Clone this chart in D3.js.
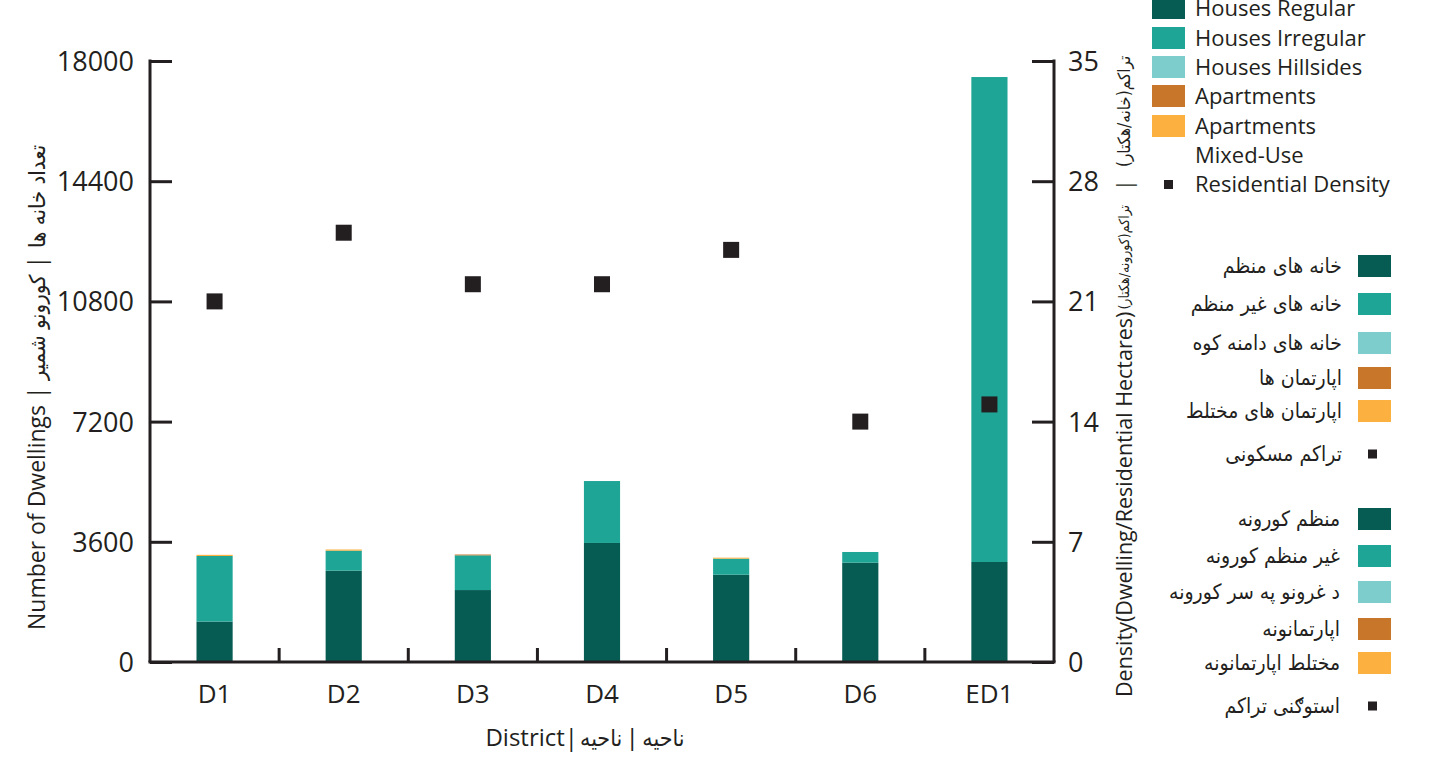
<!DOCTYPE html>
<html><head><meta charset="utf-8">
<script src="https://cdn.jsdelivr.net/npm/d3@7"></script>
<style>
body{margin:0;background:#fff;}
text{font-family:"Open Sans","Noto Sans","DejaVu Sans",sans-serif;fill:#231f20;}
text.ar{font-family:"DejaVu Sans Condensed","DejaVu Sans",sans-serif;}
</style></head>
<body><svg id="c" width="1430" height="765"></svg>
<script>
const districts = ["D1","D2","D3","D4","D5","D6","ED1"];
const housesRegular   = [1210, 2735, 2155, 3565, 2615, 2975, 2995];
const housesIrregular = [1965, 600, 1040, 1855, 480, 320, 14525];
const housesHillsides = [0, 0, 0, 0, 0, 0, 0];
const apartments      = [0, 0, 25, 0, 0, 0, 0];
const apartmentsMixed = [35, 35, 0, 0, 30, 0, 0];
const density         = [21, 25, 22, 22, 24, 14, 15];
const leftTicks  = [0, 3600, 7200, 10800, 14400, 18000];
const rightTicks = [0, 7, 14, 21, 28, 35];
const seriesNames = ["Houses Regular","Houses Irregular","Houses Hillsides","Apartments","Apartments\nMixed-Use"];
const seriesDari = ["خانه های منظم","خانه های غیر منظم","خانه های دامنه کوه","اپارتمان ها ","اپارتمان های مختلط"];
const seriesPashto = ["منظم کورونه","غیر منظم کورونه","د غرونو په سر کورونه","اپارتمانونه ","مختلط اپارتمانونه"];
const densityName = "Residential Density", densityDari = "تراکم مسکونی", densityPashto = "استوګنی تراکم";
const colors = ["#065b53","#1fa595","#7dcdcd","#c8772a","#fbb040"];

const svg = d3.select("#c");
const L = 150, R = 1054, T = 61, B = 662;
const x = d3.scaleBand().domain(districts).range([L, R]).paddingInner(0.72).paddingOuter(0.36);
const y = d3.scaleLinear().domain([0, 18000]).range([B, T]);
const y2 = d3.scaleLinear().domain([0, 35]).range([B, T]);

const keys = ["reg","irr","hill","apt","mix"];
const rows = districts.map((d,i)=>({d, reg:housesRegular[i], irr:housesIrregular[i], hill:housesHillsides[i], apt:apartments[i], mix:apartmentsMixed[i]}));
const stack = d3.stack().keys(keys)(rows);
svg.append("g").selectAll("g").data(stack).join("g").attr("fill",(s,i)=>colors[i])
  .selectAll("rect").data(s=>s).join("rect")
  .attr("x",d=>x(d.data.d)).attr("width",x.bandwidth())
  .attr("y",d=>y(d[1])).attr("height",d=>Math.max(0,y(d[0])-y(d[1])));

// density squares
svg.append("g").selectAll("rect").data(density).join("rect")
  .attr("x",(v,i)=>x(districts[i])+x.bandwidth()/2-8).attr("y",v=>y2(v)-8)
  .attr("width",16).attr("height",16).attr("fill","#231f20");

// axes
const axStroke = "#231f20";
const yl = svg.append("g").attr("transform",`translate(${L},0)`)
  .call(d3.axisRight(y).tickValues(leftTicks).tickSize(22).tickFormat(d3.format("d")));
yl.selectAll("text").attr("x",-16).attr("text-anchor","end").style("font-size","27px").attr("dy","0.35em");
const yr = svg.append("g").attr("transform",`translate(${R},0)`)
  .call(d3.axisLeft(y2).tickValues(rightTicks).tickSize(22));
yr.selectAll("text").attr("x",14).attr("text-anchor","start").style("font-size","27px").attr("dy","0.35em");
[yl,yr].forEach(g=>{g.select(".domain").remove(); g.selectAll("line").attr("stroke",axStroke).attr("stroke-width",3);});
svg.append("line").attr("x1",L).attr("x2",L).attr("y1",T-1.5).attr("y2",B).attr("stroke",axStroke).attr("stroke-width",3);
svg.append("line").attr("x1",R).attr("x2",R).attr("y1",T-1.5).attr("y2",B).attr("stroke",axStroke).attr("stroke-width",3);
svg.append("line").attr("x1",L-1.5).attr("x2",R+1.5).attr("y1",B).attr("y2",B).attr("stroke",axStroke).attr("stroke-width",3);
// x axis labels and boundary ticks
const xa = svg.append("g").attr("transform",`translate(0,${B})`)
  .call(d3.axisBottom(x).tickSize(0));
xa.select(".domain").remove();
xa.selectAll("text").style("font-size","26px").attr("dy","0").attr("y",41);
svg.append("g").selectAll("line").data(districts.slice(0,-1)).join("line")
  .attr("x1",d=>x(d)+x.bandwidth()/2+x.step()/2).attr("x2",d=>x(d)+x.bandwidth()/2+x.step()/2)
  .attr("y1",B).attr("y2",B-14).attr("stroke",axStroke).attr("stroke-width",3);

// chained rotated title
function chain(xc, ybottom, pieces, size){
  const g = svg.append("g").attr("transform",`translate(${xc},${ybottom}) rotate(-90)`);
  let off = 0;
  pieces.forEach(p=>{
    const t = g.append("text").attr("class",p.ar?"ar":null).attr("x",off).attr("y",0).attr("dy","0.35em").style("font-size",(p.s||size)+"px").text(p.t);
    off += t.node().getComputedTextLength() + (p.gap||0);
  });
}
chain(37, 630, [{t:"Number of Dwellings",gap:6},{t:"|",gap:6},{t:"کورونو شمیر",ar:1,s:22,gap:6},{t:"|",gap:8},{t:"تعداد خانه ها",ar:1,s:22}], 23);
chain(1124, 697, [{t:"Density(Dwelling/Residential Hectares)",gap:2},{t:"تراکم(کورونه/هکتار)",ar:1,s:14,gap:14},{t:"|",gap:12},{t:"تراکم(خانه/هکتار)",ar:1,s:17}], 21.5);

// x title
const xt = svg.append("g");
const t1 = xt.append("text").attr("y",738).attr("dy","0.35em").style("font-size","24px").text("District|");
const t2 = xt.append("text").attr("class","ar").attr("y",738).attr("dy","0.35em").style("font-size","23px").text("ناحیه | ناحیه");
const w1 = t1.node().getComputedTextLength(), w2 = t2.node().getComputedTextLength();
const x0 = 585 - (w1+w2+2)/2;
t1.attr("x",x0); t2.attr("x",x0+w1+2);

// legend 1 (English)
const lg1 = svg.append("g");
const ly1 = [8, 38, 67, 96, 126];
seriesNames.forEach((n,i)=>{
  lg1.append("rect").attr("x",1152).attr("y",ly1[i]-11).attr("width",33).attr("height",22).attr("fill",colors[i]);
  n.split("\n").forEach((line,j)=>{
    lg1.append("text").attr("x",1195).attr("y",ly1[i]+j*29.5).attr("dy","0.35em").style("font-size","22px").text(line);
  });
});
lg1.append("rect").attr("x",1164).attr("y",180).attr("width",9).attr("height",9).attr("fill","#231f20");
lg1.append("text").attr("x",1195).attr("y",184.5).attr("dy","0.35em").style("font-size","22px").text(densityName);

// legend 2 (Dari) and 3 (Pashto)
function rtlLegend(names, dname, ys, textX){
  const g = svg.append("g");
  names.forEach((n,i)=>{
    g.append("rect").attr("x",1358).attr("y",ys[i]-11).attr("width",33).attr("height",22).attr("fill",colors[i]);
    g.append("text").attr("class","ar").attr("x",textX).attr("y",ys[i]).attr("dy","0.35em").attr("text-anchor","end").style("font-size","21px").text(n);
  });
  g.append("rect").attr("x",1368).attr("y",ys[5]-4.5).attr("width",9).attr("height",9).attr("fill","#231f20");
  g.append("text").attr("class","ar").attr("x",textX).attr("y",ys[5]).attr("dy","0.35em").attr("text-anchor","end").style("font-size","21px").text(dname);
}
rtlLegend(seriesDari, densityDari, [266,304,343,378,411,454], 1342);
rtlLegend(seriesPashto, densityPashto, [519,556,592,629,663,706], 1340);
</script></body></html>
